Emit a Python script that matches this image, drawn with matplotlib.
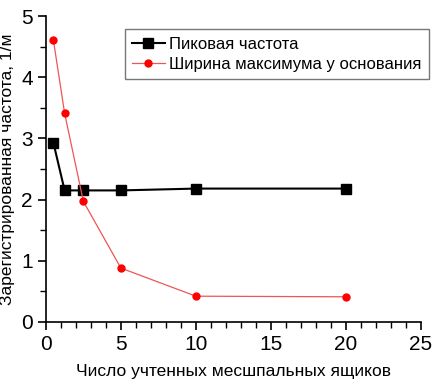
import matplotlib
matplotlib.use("Agg")
from matplotlib import pyplot as plt
from matplotlib.ticker import MultipleLocator

plt.rcParams['font.family'] = ['Liberation Sans', 'DejaVu Sans']

# data
x_boxes = [0.5, 1.25, 2.5, 5, 10, 20]
peak_freq = [2.93, 2.15, 2.15, 2.15, 2.18, 2.18]
base_width = [4.61, 3.41, 1.97, 0.88, 0.42, 0.41]

labels = ['Пиковая частота', 'Ширина максимума у основания']

fig = plt.figure(figsize=(4.37, 3.85), dpi=100)
ax = fig.add_axes([0.105, 0.164, 0.858, 0.794])

ax.plot(x_boxes, peak_freq, color='black', lw=1.5, marker='s', ms=6.5,
        label=labels[0])
ax.plot(x_boxes, base_width, color='#ee5555', lw=0.9, marker='o', ms=5,
        mfc='red', mec='red', label=labels[1])

ax.set_xlim(0, 25)
ax.set_ylim(0, 5)
ax.xaxis.set_major_locator(MultipleLocator(5))
ax.xaxis.set_minor_locator(MultipleLocator(1))
ax.yaxis.set_major_locator(MultipleLocator(1))
ax.yaxis.set_minor_locator(MultipleLocator(0.5))
ax.tick_params(which='major', length=6, width=1.2, labelsize=15)
ax.tick_params(which='minor', length=4, width=1.0)
ax.spines['top'].set_visible(False)
ax.spines['right'].set_visible(False)
ax.spines['left'].set_linewidth(1.2)
ax.spines['bottom'].set_linewidth(1.2)

ax.set_xlabel('Число учтенных месшпальных ящиков', fontsize=12.5, labelpad=7)
ax.set_ylabel('Зарегистрированная частота, 1/м', fontsize=12.5, labelpad=4)

leg = ax.legend(loc='upper right', bbox_to_anchor=(1.021, 0.957), fontsize=12,
                fancybox=False, edgecolor='#777777', framealpha=1,
                borderaxespad=0, handlelength=1.95, borderpad=0.45,
                labelspacing=0.3, handletextpad=0.25)
leg.get_frame().set_linewidth(1.0)

fig.savefig('out.png', dpi=100)
